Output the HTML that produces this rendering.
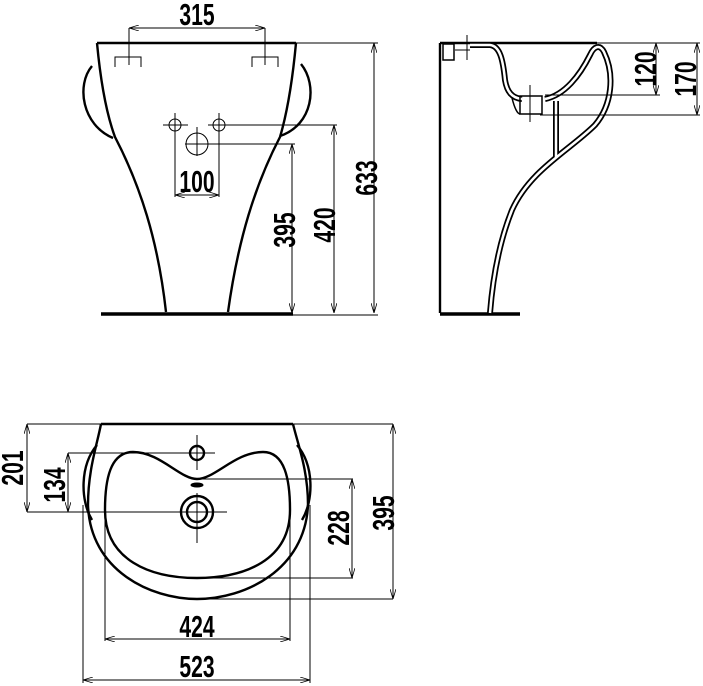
<!DOCTYPE html>
<html><head><style>
html,body{margin:0;padding:0;background:#fff;}
svg{display:block;}
text{font-family:"Liberation Sans",sans-serif;font-size:31px;font-weight:bold;fill:#000;}
</style></head><body>
<svg width="703" height="686" viewBox="0 0 703 686" xmlns="http://www.w3.org/2000/svg">
<defs>
<marker id="a" viewBox="0 0 10 6" refX="10" refY="3" markerWidth="10" markerHeight="6" orient="auto-start-reverse" markerUnits="userSpaceOnUse"><path d="M0,0 L10,3 L0,6" fill="none" stroke="#000" stroke-width="0.8"/></marker>
</defs>
<g fill="none" stroke="#000">
<g stroke-width="2.4">
<path d="M97,43 L296,43"/>
<path d="M97,43 C100,75 105,110 115,137 C140,185 158,240 166,312"/>
<path d="M296,43 C293,75 288,110 280,137 C255,185 238,240 228,312"/>
<path d="M92,66 C76,85 82,125 113,138"/>
<path d="M301,64 C318,85 313,125 280,136"/>
</g>
<path d="M101,314 L293,314" stroke-width="3.5"/>
<g stroke-width="1">
<path d="M115,67 V57 H141 V67 M252,67 V57 H278 V67"/>
<circle cx="175" cy="125" r="6"/><circle cx="219" cy="125" r="6"/><circle cx="197" cy="144" r="11"/>
<path d="M163,125 H188 M175,113 V132 M208,125 H230 M219,113 V137 M197,127 V156 M185,144 H210"/>
<path d="M129,65 V28 M265,65 V28"/>
<path d="M129,28 H265" marker-start="url(#a)" marker-end="url(#a)"/>
<path d="M175,131 V197 M219,131 V197"/>
<path d="M175,195 H219" marker-start="url(#a)" marker-end="url(#a)"/>
<path d="M219,125 H337 M200,144 H295 M296,43 H378 M293,315 H378"/>
<path d="M334,125 V313" marker-start="url(#a)" marker-end="url(#a)"/>
<path d="M292,144 V313" marker-start="url(#a)" marker-end="url(#a)"/>
<path d="M374,43 V313" marker-start="url(#a)" marker-end="url(#a)"/>
</g>
<path d="M440,43 V313 M440,43 H597" stroke-width="2.4"/>
<path d="M440,314 H520" stroke-width="3.5"/>
<g stroke-linejoin="round">
<path d="M470,45 H490 C500,46 503,60 505,80 C507,92 512,98 522,99 M545,99 C565,95 580,75 590,55 C594,46 600,44 604,52 C615,75 612,105 595,125 C570,150 530,170 512,210 C500,240 493,275 490,313 M556,101 V158" stroke-width="6"/>
<path d="M470,45 H490 C500,46 503,60 505,80 C507,92 512,98 522,99 M545,99 C565,95 580,75 590,55 C594,46 600,44 604,52 C615,75 612,105 595,125 C570,150 530,170 512,210 C500,240 493,275 490,313 M556,101 V158" stroke="#fff" stroke-width="2.5"/>
</g>
<g stroke-width="1.5">
<rect x="443" y="44" width="11" height="16"/>
<rect x="520" y="96" width="22" height="18"/>
<path d="M512,98 C515,110 518,114 520,114"/>
</g>
<g stroke-width="1">
<path d="M467,35 V60 M530,85 V122 M455,50 H470"/>
<path d="M597,43 H700 M545,95 H660 M540,115 H700"/>
<path d="M656,43 V95" marker-start="url(#a)" marker-end="url(#a)"/>
<path d="M697,43 V115" marker-start="url(#a)" marker-end="url(#a)"/>
</g>
<g stroke-width="2.4">
<path d="M101,424 H293"/>
<path d="M101,424 C97,445 88,470 88,505 C90,570 150,599 197,599 C245,599 305,570 308,505 C308,470 298,445 293,424"/>
<path d="M97,445 C80,465 80,500 92,520"/>
<path d="M297,445 C314,465 314,500 302,520"/>
<path d="M197,479 C180,479 160,452 133,452 C110,452 105,480 105,510 C105,560 150,578 197,578 C245,578 290,560 290,510 C290,480 285,452 263,452 C235,452 215,479 197,479Z"/>
<circle cx="197" cy="453" r="7"/>
<circle cx="197" cy="512" r="16"/><circle cx="197" cy="512" r="10"/>
</g>
<ellipse cx="197" cy="485" rx="6" ry="2" fill="#000"/>
<g stroke-width="1">
<path d="M197,435 V470 M180,453 H215 M197,493 V543 M170,512 H227"/>
<path d="M27,424 H393 M68,453 H200 M27,512 H180 M197,479 H353 M197,578 H353 M197,599 H393"/>
<path d="M27,424 V512" marker-start="url(#a)" marker-end="url(#a)"/>
<path d="M68,453 V512" marker-start="url(#a)" marker-end="url(#a)"/>
<path d="M352,479 V578" marker-start="url(#a)" marker-end="url(#a)"/>
<path d="M393,424 V599" marker-start="url(#a)" marker-end="url(#a)"/>
<path d="M105,510 V641 M290,510 V641 M83,505 V683 M310,505 V683"/>
<path d="M105,639 H290" marker-start="url(#a)" marker-end="url(#a)"/>
<path d="M83,680 H310" marker-start="url(#a)" marker-end="url(#a)"/>
</g>
</g>
<g text-anchor="middle">
<text transform="translate(197,25) scale(0.68,1)">315</text>
<text transform="translate(197,192) scale(0.68,1)">100</text>
<text transform="translate(295,230) rotate(-90) scale(0.68,1)">395</text>
<text transform="translate(335,225) rotate(-90) scale(0.68,1)">420</text>
<text transform="translate(377,178) rotate(-90) scale(0.68,1)">633</text>
<text transform="translate(656,69) rotate(-90) scale(0.68,1)">120</text>
<text transform="translate(696,79) rotate(-90) scale(0.68,1)">170</text>
<text transform="translate(23,468) rotate(-90) scale(0.68,1)">201</text>
<text transform="translate(65,485) rotate(-90) scale(0.68,1)">134</text>
<text transform="translate(349,528) rotate(-90) scale(0.68,1)">228</text>
<text transform="translate(394,513) rotate(-90) scale(0.68,1)">395</text>
<text transform="translate(197,637) scale(0.68,1)">424</text>
<text transform="translate(197,677) scale(0.68,1)">523</text>
</g>
</svg>
</body></html>
